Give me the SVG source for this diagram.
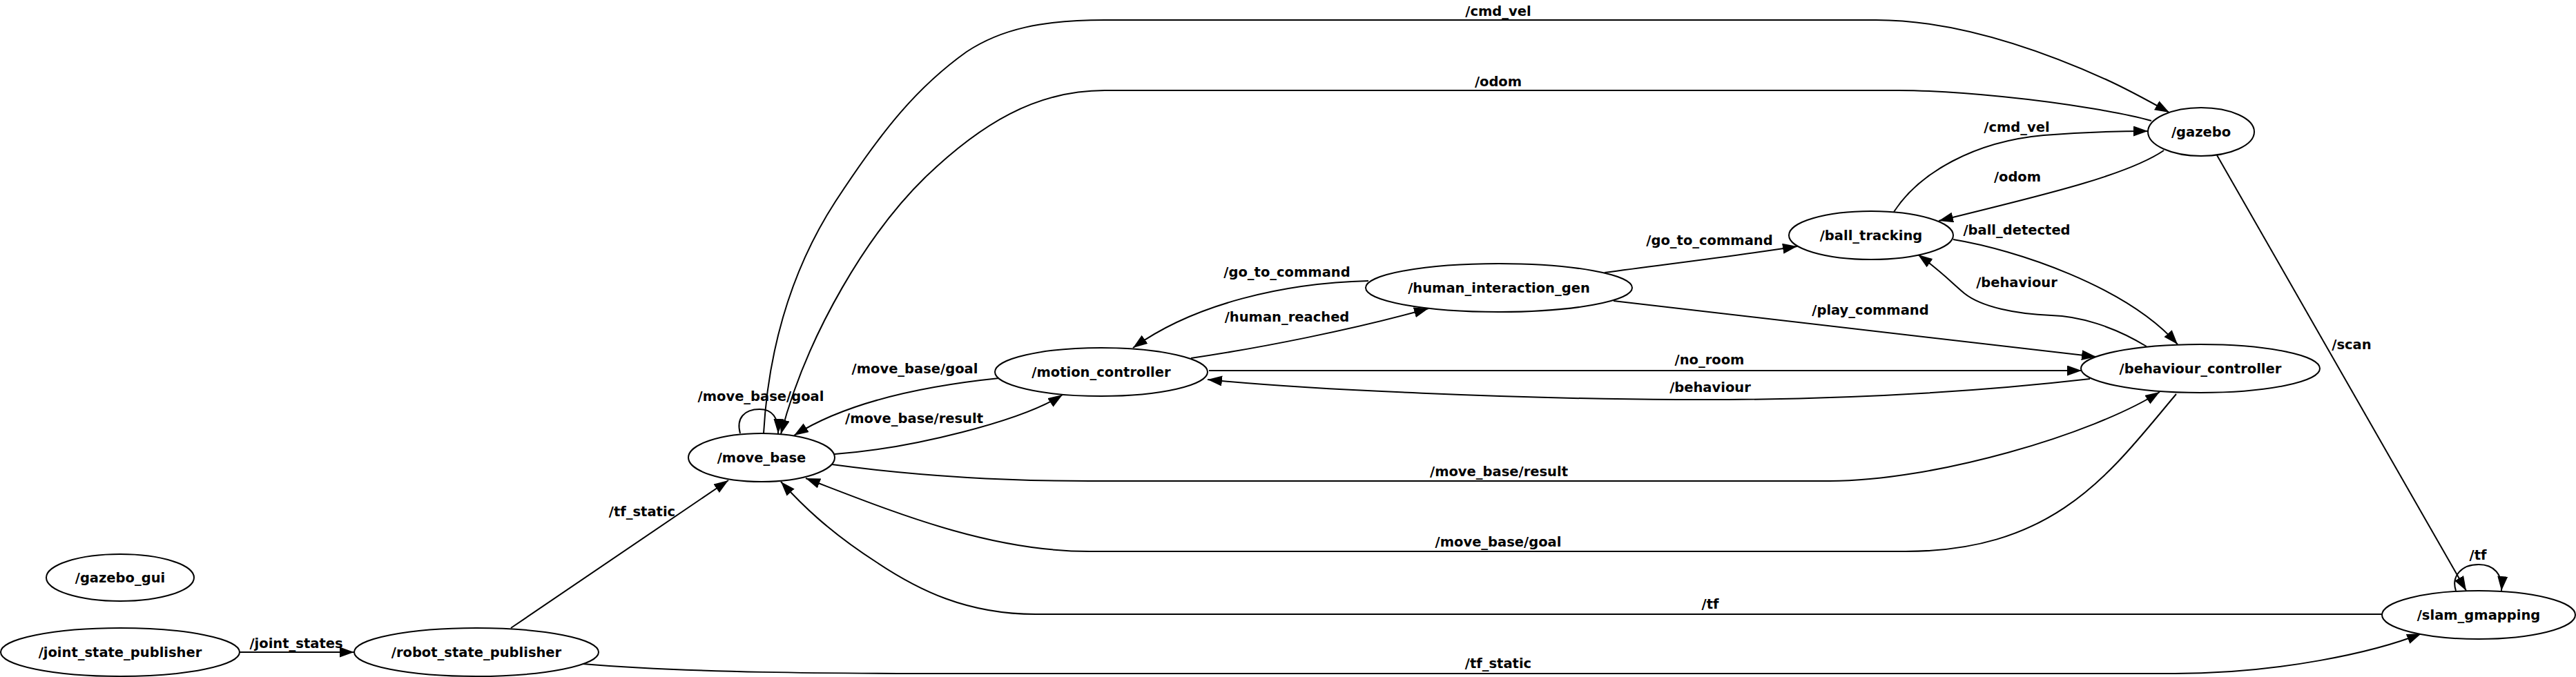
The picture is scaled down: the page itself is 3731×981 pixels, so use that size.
<svg xmlns="http://www.w3.org/2000/svg" width="3731" height="981" viewBox="0 0 3731 981">
<style>
.n ellipse{fill:#fff;stroke:#000;stroke-width:2}
.n text{font-family:"DejaVu Sans","Liberation Sans",sans-serif;font-weight:bold;font-size:19.5px;text-anchor:middle;fill:#000}
#edges path{fill:none;stroke:#000;stroke-width:2;marker-end:url(#ah)}
#edges text{font-family:"DejaVu Sans","Liberation Sans",sans-serif;font-weight:bold;font-size:19.5px;text-anchor:middle;fill:#000}
</style>
<defs>
<marker id="ah" markerUnits="userSpaceOnUse" markerWidth="22" markerHeight="16" refX="21" refY="7.5" orient="auto"><path d="M0,0 L21,7.5 L0,15 z" fill="#000"/></marker>
</defs>
<rect width="3731" height="981" fill="#fff"/>
<g id="edges">
<path d="M347,945 L513,945"/><text x="429" y="939">/joint_states</text>
<path d="M740,910 L1055,696"/><text x="930" y="748">/tf_static</text>
<path d="M844,962 C1000,975 1200,976 1400,976 L3150,976 C3300,976 3440,945 3507,918"/><text x="2170" y="968">/tf_static</text>
<path d="M1106,628 C1112,520 1140,400 1210,292 C1280,185 1330,125 1400,75 C1450,42 1510,29 1600,29 L2717,29 C2830,29 2950,70 3050,115 C3085,131 3110,145 3142,163"/><text x="2170" y="23">/cmd_vel</text>
<path d="M3116,175 C3080,165 3000,150 2900,140 C2830,133 2790,131 2750,131 L1600,131 C1500,131 1420,180 1340,257 C1260,335 1170,480 1131,629"/><text x="2170" y="125">/odom</text>
<path d="M1072,628 C1066,606 1078,593 1100,593 C1118,593 1128,605 1127,628"/><text x="1102" y="581">/move_base/goal</text>
<path d="M1447,548 C1350,558 1230,580 1150,631"/><text x="1325" y="541">/move_base/goal</text>
<path d="M1209,658 C1320,650 1480,610 1539,572"/><text x="1324" y="613">/move_base/result</text>
<path d="M1982,407 C1860,410 1730,440 1641,504"/><text x="1864" y="401">/go_to_command</text>
<path d="M1725,519 C1820,505 1960,478 2069,447"/><text x="1864" y="466">/human_reached</text>
<path d="M2324,395 C2420,382 2520,370 2603,357"/><text x="2476" y="355">/go_to_command</text>
<path d="M2337,436 L3036,517"/><text x="2709" y="456">/play_command</text>
<path d="M2743,307 C2780,250 2860,205 2960,196 C3020,191 3070,190 3111,190"/><text x="2921" y="191">/cmd_vel</text>
<path d="M3134,218 C3080,255 2950,285 2808,320"/><text x="2922" y="263">/odom</text>
<path d="M2829,347 C2920,362 3080,415 3154,499"/><text x="2921" y="340">/ball_detected</text>
<path d="M3109,502 C3060,472 3010,458 2971,457 C2920,455 2870,445 2845,425 C2825,408 2810,392 2778,369"/><text x="2921" y="416">/behaviour</text>
<path d="M1751,537 L3015,537"/><text x="2476" y="528">/no_room</text>
<path d="M3027,549 C2800,575 2600,580 2430,579 C2200,578 1900,565 1749,550"/><text x="2477" y="568">/behaviour</text>
<path d="M1205,673 C1330,690 1450,697 1578,697 L2650,697 C2800,697 3030,630 3128,568"/><text x="2171" y="690">/move_base/result</text>
<path d="M3152,571 C3060,680 2980,799 2760,799 L1578,799 C1430,799 1290,740 1167,693"/><text x="2170" y="792">/move_base/goal</text>
<path d="M3211,225 L3572,856"/><text x="3406" y="506">/scan</text>
<path d="M3557,856 C3550,835 3565,818 3590,818 C3612,818 3625,832 3623,856"/><text x="3589" y="811">/tf</text>
<path d="M3450,890 L1500,890 C1400,890 1330,855 1270,815 C1200,770 1160,730 1131,698"/><text x="2477" y="882">/tf</text>
</g>
<g id="gazebo_gui" class="n"><ellipse cx="174" cy="837" rx="107" ry="34"/><text x="174" y="844">/gazebo_gui</text></g>
<g id="joint_state_publisher" class="n"><ellipse cx="174" cy="945" rx="173" ry="35"/><text x="174" y="952">/joint_state_publisher</text></g>
<g id="robot_state_publisher" class="n"><ellipse cx="690" cy="945" rx="177" ry="35"/><text x="690" y="952">/robot_state_publisher</text></g>
<g id="move_base" class="n"><ellipse cx="1103" cy="663" rx="106" ry="35"/><text x="1103" y="670">/move_base</text></g>
<g id="motion_controller" class="n"><ellipse cx="1595" cy="539" rx="154" ry="35"/><text x="1595" y="546">/motion_controller</text></g>
<g id="human_interaction_gen" class="n"><ellipse cx="2171" cy="417" rx="193" ry="35"/><text x="2171" y="424">/human_interaction_gen</text></g>
<g id="ball_tracking" class="n"><ellipse cx="2710" cy="341" rx="119" ry="35"/><text x="2710" y="348">/ball_tracking</text></g>
<g id="gazebo" class="n"><ellipse cx="3188" cy="191" rx="77" ry="35"/><text x="3188" y="198">/gazebo</text></g>
<g id="behaviour_controller" class="n"><ellipse cx="3187" cy="534" rx="173" ry="35"/><text x="3187" y="541">/behaviour_controller</text></g>
<g id="slam_gmapping" class="n"><ellipse cx="3590" cy="891" rx="140" ry="35"/><text x="3590" y="898">/slam_gmapping</text></g>
</svg>
